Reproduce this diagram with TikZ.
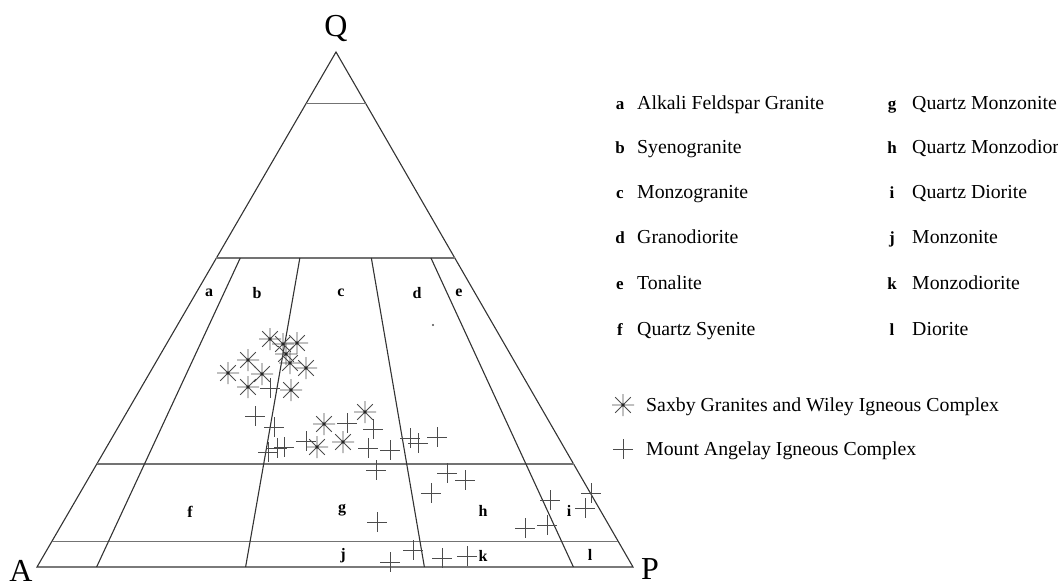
\documentclass[tikz,border=0pt]{standalone}
\usepackage{fontspec}
\setmainfont{Liberation Serif}
\usetikzlibrary{calc}
\tikzset{edge/.style={draw=black!80,line width=1.1pt},
  level/.style={draw=black!55,line width=1.1pt},
  field/.style={font=\fontsize{16}{16}\selectfont\bfseries,inner sep=0pt},
  corner/.style={font=\fontsize{32}{32}\selectfont,inner sep=0pt,anchor=base},
  key/.style={font=\fontsize{17}{17}\selectfont\bfseries,inner sep=0pt,anchor=base},
  entry/.style={font=\fontsize{19.8}{20}\selectfont,inner sep=0pt,anchor=base west},
  saxby/.pic={\draw[black!70,line width=0.9pt] (-11,0) -- (11,0) (0,-11) -- (0,11) (-7.8,-7.8) -- (7.8,7.8) (-7.8,7.8) -- (7.8,-7.8);
    \fill[black!85] (0,0) circle (1.7);},
  angelay/.pic={\draw[black!70,line width=0.9pt] (-10,0) -- (10,0) (0,-10) -- (0,10);}}

\begin{document}
\begin{tikzpicture}[x=1pt,y=-1pt]
\useasboundingbox (0,0) rectangle (1058,582);
\coordinate (A) at (37,567);
\coordinate (P) at (633,567);
\coordinate (Q) at (336,52);
% base points of the P/(A+P) lines
\coordinate (b10) at ($(A)!0.10!(P)$);
\coordinate (b35) at ($(A)!0.35!(P)$);
\coordinate (b65) at ($(A)!0.65!(P)$);
\coordinate (b90) at ($(A)!0.90!(P)$);
\draw[edge] (A) -- (P) -- (Q) -- cycle;
\draw[level] ($(A)!0.90!(Q)$) -- ($(P)!0.90!(Q)$);
\draw[level] ($(A)!0.60!(Q)$) -- ($(P)!0.60!(Q)$);
\draw[level] ($(A)!0.20!(Q)$) -- ($(P)!0.20!(Q)$);
\draw[level] ($(A)!0.05!(Q)$) -- ($(P)!0.05!(Q)$);
\draw[edge] ($(b10)!0.6!(Q)$) -- (b10);
\draw[edge] ($(b35)!0.6!(Q)$) -- (b35);
\draw[edge] ($(b65)!0.6!(Q)$) -- (b65);
\draw[edge] ($(b90)!0.6!(Q)$) -- (b90);
\node[corner] (lq) at (336,36) {Q};
\node[corner] (la) at (21,581) {A};
\node[corner] (lp) at (650,579) {P};
% fields
\node[field] (fa) at (209,293) {a};
\node[field] (fb) at (257,293) {b};
\node[field] (fc) at (341,293) {c};
\node[field] (fd) at (417,293) {d};
\node[field] (fe) at (459,293) {e};
\node[field] (ff) at (190,512) {f};
\node[field] (fg) at (342,510) {g};
\node[field] (fh) at (483,511) {h};
\node[field] (fi) at (569,511) {i};
\node[field] (fj) at (343,556) {j};
\node[field] (fk) at (483,556) {k};
\node[field] (fl) at (590,555) {l};
\fill[black!70] (433,325) circle (1.1);
% data
\foreach \p in {(270,339),(283,344),(297,343),(286,354),(290,363),(306,368),(248,360),(228,373),
  (262,374),(248,387),(291,390),(324,424),(365,412),(317,447),(343,442)}
  \pic at \p {saxby};
\foreach \p in {(270,388),(255,416),(274,427),(268,452),(277,448),(284,447),(306,441),(347,423),
  (373,429),(368,448),(390,450),(410,438),(418,443),(437,437),(376,470),(447,473),(465,480),
  (431,493),(377,522),(550,500),(591,493),(585,508),(525,528),(547,525),(413,550),(390,562),
  (442,558),(467,556)}
  \pic at \p {angelay};
% legend
\node[key] (ka) at (620,109) {a};
\node[entry] (ta) at (637,109) {Alkali Feldspar Granite};
\node[key] (kb) at (620,153) {b};
\node[entry] (tb) at (637,153) {Syenogranite};
\node[key] (kc) at (620,198) {c};
\node[entry] (tc) at (637,198) {Monzogranite};
\node[key] (kd) at (620,243) {d};
\node[entry] (td) at (637,243) {Granodiorite};
\node[key] (ke) at (620,289) {e};
\node[entry] (te) at (637,289) {Tonalite};
\node[key] (kf) at (620,335) {f};
\node[entry] (tf) at (637,335) {Quartz Syenite};
\node[key] (kg) at (892,109) {g};
\node[entry] (tg) at (912,109) {Quartz Monzonite};
\node[key] (kh) at (892,153) {h};
\node[entry] (th) at (912,153) {Quartz Monzodiorite};
\node[key] (ki) at (892,198) {i};
\node[entry] (ti) at (912,198) {Quartz Diorite};
\node[key] (kj) at (892,243) {j};
\node[entry] (tj) at (912,243) {Monzonite};
\node[key] (kk) at (892,289) {k};
\node[entry] (tk) at (912,289) {Monzodiorite};
\node[key] (kl) at (892,335) {l};
\node[entry] (tl) at (912,335) {Diorite};
\pic at (623,405) {saxby};
\node[entry] (tsax) at (646,411) {Saxby Granites and Wiley Igneous Complex};
\pic at (623,449) {angelay};
\node[entry] (tang) at (646,455) {Mount Angelay Igneous Complex};
\end{tikzpicture}
\end{document}
